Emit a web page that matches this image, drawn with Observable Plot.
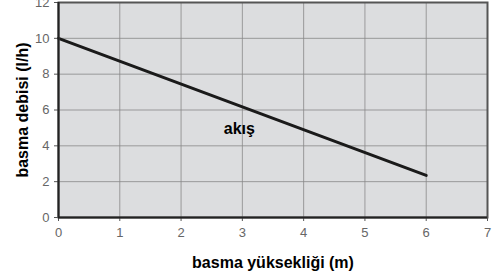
<!DOCTYPE html>
<html><head><meta charset="utf-8">
<script src="https://cdn.jsdelivr.net/npm/d3@7"></script>
<script src="https://cdn.jsdelivr.net/npm/@observablehq/plot@0.6"></script>
<style>
body{margin:0;background:#fff;}
svg [aria-label$="axis label"] text, svg [aria-label$="axis label"]{font-weight:bold;fill:#000;font-size:16px;}
</style>
</head><body><div id="c"></div>
<script>
const flowX = [0, 6];
const flowY = [10, 2.35];
const xTicks = [0,1,2,3,4,5,6,7];
const yTicks = [0,2,4,6,8,10,12];
const seriesLabel = "akış";
const labelPos = [2.95, 4.95];

const data = flowX.map((x,i)=>({x, y: flowY[i]}));
const chart = Plot.plot({
  width: 497, height: 279,
  marginLeft: 58, marginRight: 10, marginTop: 2, marginBottom: 62,
  style: {fontFamily: "Liberation Sans, Arial, sans-serif", fontSize: "12px", background: "#fff", overflow: "visible"},
  x: {domain: [0,7], ticks: xTicks},
  y: {domain: [0,12], ticks: yTicks},
  marks: [
    Plot.frame({fill: "#dcdddf"}),
    Plot.gridX(xTicks, {stroke: "#888", strokeOpacity: 0.8, strokeWidth: 1}),
    Plot.gridY(yTicks, {stroke: "#888", strokeOpacity: 0.8, strokeWidth: 1}),
    Plot.axisX({ticks: xTicks, tickFormat: "d", tickSize: 4, tickPadding: 6, fill: "#666", stroke: "#555", fontSize: 13,
      label: "basma yüksekliği (m)", labelAnchor: "center", labelOffset: 50, labelArrow: "none"}),
    Plot.axisY({ticks: yTicks, tickFormat: "d", tickSize: 4, tickPadding: 5, fill: "#666", stroke: "#555", fontSize: 13,
      label: "basma debisi (l/h)", labelAnchor: "center", labelOffset: 42, labelArrow: "none"}),
    Plot.line(data, {x: "x", y: "y", stroke: "#1a1a1a", strokeWidth: 3}),
    Plot.text([{x: labelPos[0], y: labelPos[1], t: seriesLabel}], {x: "x", y: "y", text: "t", fill: "#000", fontWeight: "bold", fontSize: 16}),
    Plot.frame({stroke: "#555", strokeWidth: 2}),
    Plot.ruleX([0], {stroke: "#222", strokeWidth: 2}),
    Plot.ruleY([0], {stroke: "#222", strokeWidth: 2})
  ]
});
document.getElementById("c").appendChild(chart);
</script></body></html>
